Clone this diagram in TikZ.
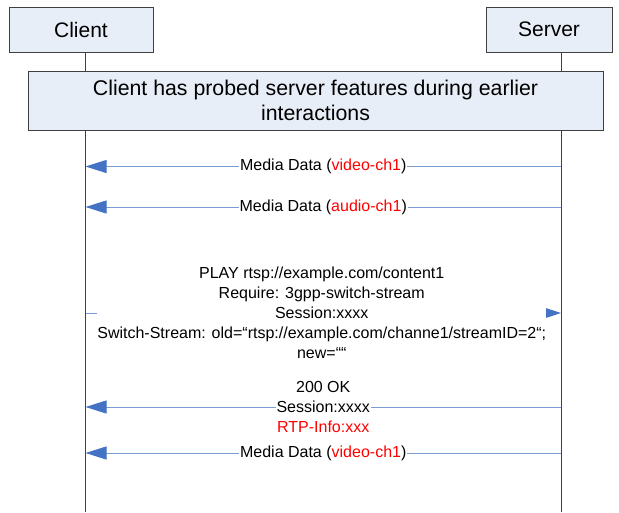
\documentclass[tikz,border=0pt]{standalone}
\usepackage{fontspec}
\setmainfont{Liberation Sans}
\usetikzlibrary{arrows.meta,positioning}
\definecolor{boxfill}{HTML}{E8EEF7}
\definecolor{boxline}{HTML}{404040}
\definecolor{msgline}{HTML}{7C9BD2}
\definecolor{msghead}{HTML}{4472C4}
\definecolor{chred}{HTML}{FF0000}

\begin{document}
\begin{tikzpicture}[x=1pt,y=-1pt,
        actor/.style={rectangle,draw=boxline,fill=boxfill,minimum height=45pt,inner sep=0pt,font=\fontsize{21}{25}\selectfont},
        note/.style={rectangle,draw=boxline,fill=boxfill,minimum width=575pt,minimum height=59pt,align=center,inner sep=0pt,font=\fontsize{21.3}{25}\selectfont},
        msg/.style={msgline,line width=1pt,-{Triangle[length=21pt,width=13pt,color=msghead]}},
        req/.style={msgline,line width=1pt,-{Triangle[length=15pt,width=9.5pt,color=msghead]}},
        lab/.style={fill=white,text=black,align=center,inner sep=1pt,font=\fontsize{16}{20}\selectfont}]

    \useasboundingbox (0,0) rectangle (619,512);

    \node[actor,minimum width=144pt] (client) at (81,29.5) {Client};
    \node[actor,minimum width=126pt] (server) at (549,29.5) {Server};

    % lifelines
    \coordinate (ctop) at (85.5,52);
    \coordinate (cbot) at (85.5,512);
    \coordinate (stop) at (561,52);
    \coordinate (sbot) at (561,512);
    \draw[boxline] (ctop) -- (cbot);
    \draw[boxline] (stop) -- (sbot);

    \node[note] (probe) at (315.5,100.5) {Client has probed server features during earlier\\interactions};

    \foreach \n/\y in {1/166.5,2/207,3/313,4/407,5/453} {
        \coordinate (c\n) at (85.5,\y);
        \coordinate (s\n) at (561,\y);
    }

    \path[msg]
    (s1) edge node[lab] {Media Data (\textcolor{chred}{video-ch1})} (c1)
    (s2) edge node[lab] {Media Data (\textcolor{chred}{audio-ch1})} (c2)
    (s4) edge node[lab] {200 OK\\Session:xxxx\\\textcolor{chred}{RTP-Info:xxx}} (c4)
    (s5) edge node[lab] {Media Data (\textcolor{chred}{video-ch1})} (c5);
    \path[req]
    (c3) edge node[lab,inner xsep=0pt,xshift=-1.5pt] {PLAY rtsp://example.com/content1\\Require: 3gpp-switch-stream\\Session:xxxx\\Switch-Stream: old=“rtsp://example.com/channe1/streamID=2“;\\new=““} (s3);
\end{tikzpicture}
\end{document}
